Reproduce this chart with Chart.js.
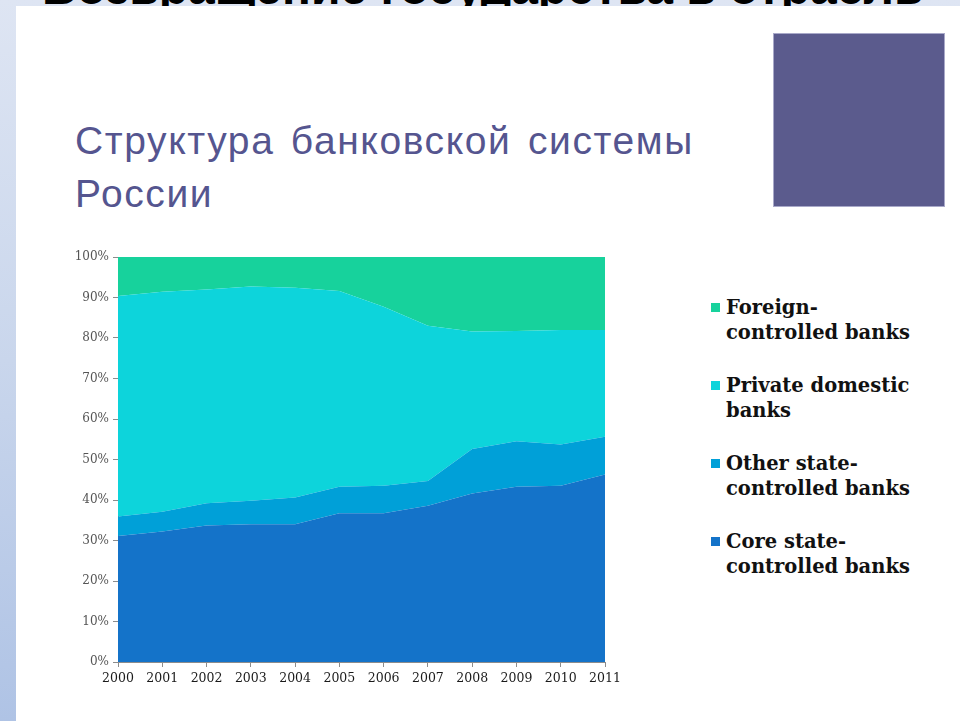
<!DOCTYPE html>
<html>
<head>
<meta charset="utf-8">
<script src="https://cdn.jsdelivr.net/npm/chart.js@4.4.1/dist/chart.umd.min.js"></script>
<style>
  html, body { margin: 0; padding: 0; }
  body {
    width: 960px; height: 721px; overflow: hidden; position: relative;
    background: linear-gradient(to bottom, #dee5f3 0%, #c9d6ec 50%, #afc3e5 100%);
    font-family: "Liberation Sans", Arial, sans-serif;
  }
  #header {
    position: absolute; left: 42px; top: -36px;
    font-size: 48px; line-height: 48px; font-weight: bold; color: #000;
    white-space: nowrap; z-index: 0;
  }
  #panel {
    position: absolute; left: 16px; top: 6px; right: 0; bottom: 0;
    background: #fff; z-index: 1;
  }
  #box {
    position: absolute; left: 773px; top: 33px; width: 170px; height: 172px;
    background: #5b5b8d; border: 1px solid #a9a9c9; z-index: 2;
  }
  #title {
    position: absolute; left: 75px; top: 114px;
    font-size: 39px; line-height: 53px; letter-spacing: 1.6px; word-spacing: 4px;
    color: #55558f; z-index: 2;
  }
  #chartWrap {
    position: absolute; left: 60px; top: 240px; width: 570px; height: 460px; z-index: 2;
  }
  #legend {
    position: absolute; left: 711px; top: 295px; z-index: 2;
    font-family: "DejaVu Serif", Georgia, serif; font-weight: bold;
    font-size: 19.5px; line-height: 25px; color: #111;
  }
  .item { position: relative; padding-left: 15px; margin-bottom: 28px; white-space: nowrap; }
  .swatch { position: absolute; left: 0; top: 8px; width: 9px; height: 9px; }
</style>
</head>
<body>
<div id="header">Возвращение государства в отрасль</div>
<div id="panel"></div>
<div id="box"></div>
<div id="title">Структура банковской системы<br>России</div>
<div id="chartWrap"><canvas id="bankChart"></canvas></div>
<div id="legend"></div>
<script>
var years = ['2000', '2001', '2002', '2003', '2004', '2005', '2006', '2007', '2008', '2009', '2010', '2011'];

// shares in %, stacked bottom to top
var coreState = [31.1, 32.2, 33.7, 34.0, 34.0, 36.7, 36.7, 38.6, 41.6, 43.3, 43.5, 46.3];
var otherState = [4.8, 4.9, 5.5, 5.8, 6.6, 6.6, 6.8, 6.1, 11.0, 11.2, 10.2, 9.3];
var privateDomestic = [54.5, 54.3, 52.8, 52.9, 51.8, 48.3, 44.2, 38.3, 29.0, 27.2, 28.3, 26.4];
var foreignControlled = [9.6, 8.6, 8.0, 7.3, 7.6, 8.4, 12.3, 17.0, 18.4, 18.3, 18.0, 18.0];

var seriesNames = ['Core state-controlled banks', 'Other state-controlled banks', 'Private domestic banks', 'Foreign-controlled banks'];
var legendLines = [['Core state-', 'controlled banks'], ['Other state-', 'controlled banks'], ['Private domestic', 'banks'], ['Foreign-', 'controlled banks']];
var seriesColors = ['#1473c9', '#00a0d8', '#0dd4db', '#17d29c'];
var seriesData = [coreState, otherState, privateDomestic, foreignControlled];

var datasets = seriesData.map(function (vals, i) {
    return {
        label: seriesNames[i],
        data: vals,
        backgroundColor: seriesColors[i],
        borderWidth: 0,
        pointRadius: 0,
        fill: i === 0 ? 'origin' : '-1'
    };
});

var axisGray = '#8c8c8c';

new Chart(document.getElementById('bankChart').getContext('2d'), {
    type: 'line',
    data: { labels: years, datasets: datasets },
    options: {
        responsive: true,
        maintainAspectRatio: false,
        animation: false,
        layout: { padding: { top: 17, right: 25, left: 0, bottom: 0 } },
        plugins: { legend: { display: false }, tooltip: { enabled: false } },
        elements: { line: { tension: 0 } },
        scales: {
            x: {
                offset: false,
                grid: { drawOnChartArea: false, tickLength: 5, color: axisGray },
                border: { color: axisGray },
                ticks: {
                    color: '#1a1a1a', autoSkip: false, maxRotation: 0, padding: 4,
                    font: { family: 'DejaVu Serif', size: 12.5 }
                },
                afterFit: function (s) { s.height = 38; }
            },
            y: {
                stacked: true, min: 0, max: 100,
                grid: {
                    tickLength: 5, tickColor: axisGray,
                    color: function (c) { return c.tick && c.tick.value === 100 ? '#c8c8c8' : 'rgba(0,0,0,0)'; }
                },
                border: { color: axisGray },
                ticks: {
                    stepSize: 10, color: '#555', padding: 4,
                    font: { family: 'DejaVu Serif', size: 12 },
                    callback: function (v) { return v + '%'; }
                },
                afterFit: function (s) { s.width = 58; }
            }
        }
    }
});

// legend, top entry = top of stack
var legend = document.getElementById('legend');
for (var i = seriesNames.length - 1; i >= 0; i--) {
    var item = document.createElement('div');
    item.className = 'item';
    var sw = document.createElement('span');
    sw.className = 'swatch';
    sw.style.background = seriesColors[i];
    item.appendChild(sw);
    item.appendChild(document.createTextNode(legendLines[i][0]));
    item.appendChild(document.createElement('br'));
    item.appendChild(document.createTextNode(legendLines[i][1]));
    legend.appendChild(item);
}
</script>
</body>
</html>
